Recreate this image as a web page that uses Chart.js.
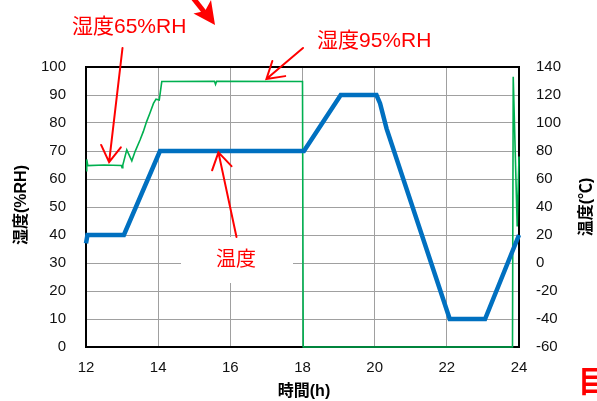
<!DOCTYPE html>
<html>
<head>
<meta charset="utf-8">
<script src="https://cdn.jsdelivr.net/npm/chart.js@4"></script>
<style>
  body { margin: 0; background: #fff; }
  canvas { display: block; }
</style>
</head>
<body>
<canvas id="chart" width="597" height="401"></canvas>
<script>
// x axis (hours)
const hourTicks = [12, 14, 16, 18, 20, 22, 24]

// humidity (%RH) -> left axis
const humHours = [12, 12.02, 12.05, 12.5, 12.98, 13.0, 13.02, 13.13, 13.27, 13.36, 13.5, 13.59, 13.68, 13.77, 13.87, 13.94, 14.03, 14.1, 15.56, 15.59, 15.62, 18.0, 18.02, 23.82, 23.84, 23.95, 24.0]
const humValues = [63, 67, 64.8, 65, 64.8, 64, 65, 70.4, 66.5, 69.8, 74, 77, 80.5, 83.5, 87, 88.5, 88.2, 94.8, 94.9, 93.8, 94.9, 94.8, 0, 0, 96.5, 43, 68]

// temperature (C) -> right axis
const tempHours = [12, 12.04, 13.05, 14.05, 18.04, 19.06, 20.05, 20.15, 20.33, 22.08, 23.06, 24.0]
const tempValues = [14, 20, 20, 80, 80, 120, 120, 114, 96, -40, -40, 20]

const toPoints = (xs, ys) => xs.map((x, i) => ({ x: x, y: ys[i] }))

const FONT = '"Liberation Sans", "Noto Sans CJK JP", sans-serif'
const RED = "#ff0000"

function arrow(ctx, x1, y1, x2, y2) {
  // open V arrow, tip at (x2, y2)
  const ang = Math.atan2(y1 - y2, x1 - x2)
  const len = 19, spread = 0.55
  ctx.beginPath()
  ctx.moveTo(x1, y1)
  ctx.lineTo(x2, y2)
  ctx.moveTo(x2 + len * Math.cos(ang - spread), y2 + len * Math.sin(ang - spread))
  ctx.lineTo(x2, y2)
  ctx.lineTo(x2 + len * Math.cos(ang + spread), y2 + len * Math.sin(ang + spread))
  ctx.stroke()
}

const annotations = {
  id: "annotations",
  beforeDatasetsDraw(chart) {
    const ctx = chart.ctx
    const a = chart.chartArea
    ctx.save()
    // white box behind the label
    ctx.fillStyle = "#fff"
    ctx.fillRect(181, 237, 112, 46)
    // plot frame
    ctx.strokeStyle = "#000"
    ctx.lineWidth = 2
    ctx.strokeRect(a.left, a.top, a.right - a.left, a.bottom - a.top)
    ctx.restore()
  },
  afterDraw(chart) {
    const ctx = chart.ctx
    const x = chart.scales.x
    const y = chart.scales.y
    ctx.save()

    // axis titles
    ctx.fillStyle = "#000"
    ctx.font = "bold 16px " + FONT
    ctx.textAlign = "center"
    ctx.textBaseline = "middle"
    ctx.fillText("時間(h)", 304, 392)
    ctx.save()
    ctx.translate(22, 205)
    ctx.rotate(-Math.PI / 2)
    ctx.fillText("湿度(%RH)", 0, 0)
    ctx.restore()
    ctx.save()
    ctx.translate(587, 207)
    ctx.rotate(-Math.PI / 2)
    ctx.fillText("温度(℃)", 0, 0)
    ctx.restore()

    // red labels
    ctx.fillStyle = RED
    ctx.textAlign = "left"
    ctx.textBaseline = "alphabetic"
    ctx.font = "21px " + FONT
    ctx.fillText("湿度65%RH", 72, 33)
    ctx.fillText("湿度95%RH", 317, 47)
    ctx.font = "20px " + FONT
    ctx.fillText("温度", 216, 266)
    ctx.font = "bold 30px " + FONT
    ctx.fillText("目", 578, 392)

    // red arrows
    ctx.strokeStyle = RED
    ctx.lineWidth = 2
    ctx.lineCap = "round"
    arrow(ctx, 122.5, 48, x.getPixelForValue(12.64), y.getPixelForValue(66))
    arrow(ctx, 303, 48, x.getPixelForValue(17.0), y.getPixelForValue(95.7))
    arrow(ctx, 236.5, 237, x.getPixelForValue(15.67), y.getPixelForValue(69.5))

    // big cropped arrow at the top
    ctx.lineWidth = 5
    ctx.lineCap = "butt"
    ctx.beginPath()
    ctx.moveTo(190, -6)
    ctx.lineTo(205, 13)
    ctx.stroke()
    ctx.fillStyle = RED
    ctx.beginPath()
    ctx.moveTo(215, 25)
    ctx.lineTo(193.5, 13.5)
    ctx.lineTo(205, 11)
    ctx.lineTo(211, 0)
    ctx.closePath()
    ctx.fill()

    ctx.restore()
  },
}

const tickFont = { family: FONT, size: 15 }

new Chart(document.getElementById("chart"), {
  type: "line",
  data: {
    datasets: [
      {
        label: "温度",
        data: toPoints(tempHours, tempValues),
        yAxisID: "y1",
        borderColor: "#0070c0",
        borderWidth: 4.5,
        pointRadius: 0,
        tension: 0,
        clip: false,
      },
      {
        label: "湿度",
        data: toPoints(humHours, humValues),
        yAxisID: "y",
        borderColor: "#00b050",
        borderWidth: 1.6,
        pointRadius: 0,
        tension: 0,
        clip: false,
      },
    ],
  },
  options: {
    responsive: false,
    animation: false,
    devicePixelRatio: 1,
    layout: { padding: { top: 67, left: 0, right: 0, bottom: 0 } },
    plugins: { legend: { display: false }, tooltip: { enabled: false } },
    scales: {
      x: {
        type: "linear",
        min: 12,
        max: 24,
        afterBuildTicks: (s) => { s.ticks = hourTicks.map((v) => ({ value: v })) },
        afterFit: (s) => { s.height = 54 },
        ticks: { font: tickFont, color: "#111", padding: 12, maxRotation: 0 },
        grid: { color: "#a0a0a0", lineWidth: 1, drawTicks: false },
        border: { display: false },
      },
      y: {
        position: "left",
        min: 0,
        max: 100,
        afterFit: (s) => { s.width = 86 },
        ticks: { stepSize: 10, font: tickFont, color: "#111", padding: 20 },
        grid: { color: "#a0a0a0", lineWidth: 1, drawTicks: false },
        border: { display: false },
      },
      y1: {
        position: "right",
        min: -60,
        max: 140,
        afterFit: (s) => { s.width = 78 },
        ticks: { stepSize: 20, font: tickFont, color: "#111", padding: 17 },
        grid: { drawOnChartArea: false, drawTicks: false },
        border: { display: false },
      },
    },
  },
  plugins: [annotations],
})
</script>
</body>
</html>
